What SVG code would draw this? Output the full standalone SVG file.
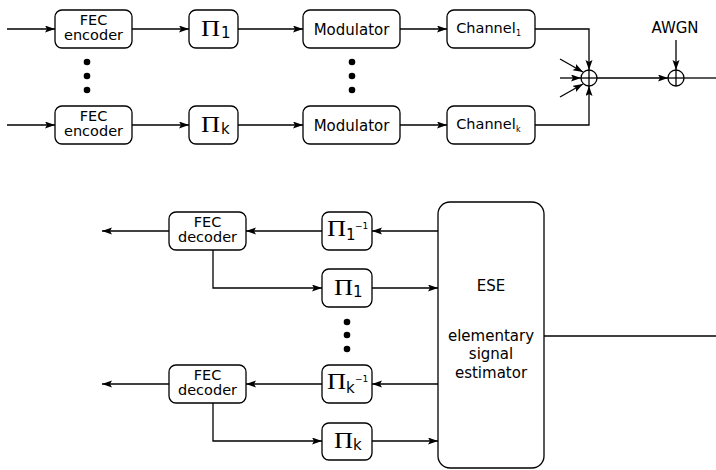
<svg xmlns="http://www.w3.org/2000/svg" width="716" height="470" viewBox="0 0 716 470">
<defs>
<marker id="ah" markerWidth="11" markerHeight="8" refX="10" refY="3.5" orient="auto" markerUnits="userSpaceOnUse">
<path d="M0,0 L10,3.5 L0,7 L2,3.5 z" fill="#000"/>
</marker>
</defs>
<style>
.box{fill:#fff;stroke:#000;stroke-width:1.3}
.ln{fill:none;stroke:#000;stroke-width:1.3}
.arr{fill:none;stroke:#000;stroke-width:1.3;marker-end:url(#ah)}
.t{font-family:"DejaVu Sans","Liberation Sans",sans-serif;font-size:14.5px;fill:#000;text-anchor:middle}
.m{font-size:15px}
.pi{font-family:"Liberation Serif","Times New Roman",serif;font-size:23px;fill:#000}
.sub{font-family:"DejaVu Sans","Liberation Sans",sans-serif;font-size:15px;fill:#000}
.sup{font-family:"DejaVu Sans","Liberation Sans",sans-serif;font-size:9px;fill:#000}
.csub{font-family:"DejaVu Sans","Liberation Sans",sans-serif;font-size:8px;fill:#000}
.dot{fill:#000}
</style>
<g id="connectors">
<line class="arr" x1="7" y1="29" x2="55" y2="29"/>
<line class="arr" x1="132" y1="29" x2="189" y2="29"/>
<line class="arr" x1="238" y1="29" x2="303" y2="29"/>
<line class="arr" x1="400" y1="29" x2="447" y2="29"/>
<polyline class="arr" points="535,29 589,29 589,70"/>
<line class="arr" x1="7" y1="125" x2="55" y2="125"/>
<line class="arr" x1="132" y1="125" x2="189" y2="125"/>
<line class="arr" x1="238" y1="125" x2="303" y2="125"/>
<line class="arr" x1="400" y1="125" x2="447" y2="125"/>
<polyline class="arr" points="535,125 589,125 589,86"/>
<line class="arr" x1="560" y1="78" x2="581" y2="78"/>
<line class="arr" x1="560" y1="59" x2="583" y2="72"/>
<line class="arr" x1="560" y1="97" x2="583" y2="84"/>
<line class="arr" x1="597" y1="78" x2="668" y2="78"/>
<line class="arr" x1="676" y1="40" x2="676" y2="70"/>
<line class="ln" x1="684" y1="78" x2="716" y2="78"/>
<line class="arr" x1="438" y1="231" x2="372" y2="231"/>
<line class="arr" x1="322" y1="231" x2="246" y2="231"/>
<line class="arr" x1="169" y1="231" x2="102" y2="231"/>
<polyline class="arr" points="213,250 213,288 322,288"/>
<line class="arr" x1="372" y1="288" x2="438" y2="288"/>
<line class="arr" x1="438" y1="384" x2="372" y2="384"/>
<line class="arr" x1="322" y1="384" x2="246" y2="384"/>
<line class="arr" x1="169" y1="384" x2="102" y2="384"/>
<polyline class="arr" points="213,403 213,441 322,441"/>
<line class="arr" x1="372" y1="441" x2="438" y2="441"/>
<line class="ln" x1="544" y1="336" x2="716" y2="336"/>
</g>
<g id="fec-enc-1"><rect class="box" x="55" y="10" width="77" height="38" rx="7"/><text class="t" x="93.5" y="25">FEC</text><text class="t" x="93.5" y="40">encoder</text></g>
<g id="pi-1"><rect class="box" x="189" y="10" width="49" height="38" rx="7"/><text class="pi" transform="translate(201,36) scale(1.15,1)">Π</text><text class="sub" x="221" y="38">1</text></g>
<g id="mod-1"><rect class="box" x="303" y="10" width="97" height="38" rx="7"/><text class="t m" x="351.5" y="35">Modulator</text></g>
<g id="chan-1"><rect class="box" x="447" y="10" width="88" height="38" rx="7"/><text class="t" x="486" y="33">Channel</text><text class="csub" x="516" y="36">1</text></g>
<g id="fec-enc-k"><rect class="box" x="55" y="106" width="77" height="38" rx="7"/><text class="t" x="93.5" y="121">FEC</text><text class="t" x="93.5" y="136">encoder</text></g>
<g id="pi-k"><rect class="box" x="189" y="106" width="49" height="38" rx="7"/><text class="pi" transform="translate(201,132) scale(1.15,1)">Π</text><text class="sub" x="221" y="134">k</text></g>
<g id="mod-k"><rect class="box" x="303" y="106" width="97" height="38" rx="7"/><text class="t m" x="351.5" y="131">Modulator</text></g>
<g id="chan-k"><rect class="box" x="447" y="106" width="88" height="38" rx="7"/><text class="t" x="486" y="129">Channel</text><text class="csub" x="516" y="132">k</text></g>
<g id="dots-top"><circle class="dot" cx="87" cy="62" r="3.3"/><circle class="dot" cx="87" cy="76" r="3.3"/><circle class="dot" cx="87" cy="90" r="3.3"/><circle class="dot" cx="352" cy="62" r="3.3"/><circle class="dot" cx="352" cy="76" r="3.3"/><circle class="dot" cx="352" cy="90" r="3.3"/></g>
<g id="sum-1"><circle class="ln" cx="589" cy="78" r="8"/><line class="ln" x1="581" y1="78" x2="597" y2="78"/><line class="ln" x1="589" y1="70" x2="589" y2="86"/></g>
<g id="sum-awgn"><circle class="ln" cx="676" cy="78" r="8"/><line class="ln" x1="668" y1="78" x2="684" y2="78"/><line class="ln" x1="676" y1="70" x2="676" y2="86"/><text class="t m" x="675" y="33">AWGN</text></g>
<g id="fec-dec-1"><rect class="box" x="169" y="212" width="77" height="38" rx="7"/><text class="t" x="207.5" y="227">FEC</text><text class="t" x="207.5" y="242">decoder</text></g>
<g id="pi-inv-1"><rect class="box" x="322" y="212" width="50" height="38" rx="7"/><text class="pi" transform="translate(327,236) scale(1.15,1)">Π</text><text class="sub" x="346" y="240">1</text><text class="sup" x="355" y="229">−1</text></g>
<g id="pi-b-1"><rect class="box" x="322" y="269" width="50" height="38" rx="7"/><text class="pi" transform="translate(334,295) scale(1.15,1)">Π</text><text class="sub" x="353" y="297">1</text></g>
<g id="dots-bottom"><circle class="dot" cx="347" cy="322" r="3.3"/><circle class="dot" cx="347" cy="335" r="3.3"/><circle class="dot" cx="347" cy="349" r="3.3"/></g>
<g id="fec-dec-k"><rect class="box" x="169" y="365" width="77" height="38" rx="7"/><text class="t" x="207.5" y="380">FEC</text><text class="t" x="207.5" y="395">decoder</text></g>
<g id="pi-inv-k"><rect class="box" x="322" y="365" width="50" height="38" rx="7"/><text class="pi" transform="translate(327,389) scale(1.15,1)">Π</text><text class="sub" x="346" y="393">k</text><text class="sup" x="355" y="382">−1</text></g>
<g id="pi-b-k"><rect class="box" x="322" y="423" width="50" height="37" rx="7"/><text class="pi" transform="translate(334,448) scale(1.15,1)">Π</text><text class="sub" x="353" y="450">k</text></g>
<g id="ese"><rect class="box" x="438" y="202" width="106" height="266" rx="12"/><text class="t m" x="491" y="291">ESE</text><text class="t m" x="491" y="341">elementary</text><text class="t m" x="491" y="359">signal</text><text class="t m" x="491" y="378">estimator</text></g>
</svg>
